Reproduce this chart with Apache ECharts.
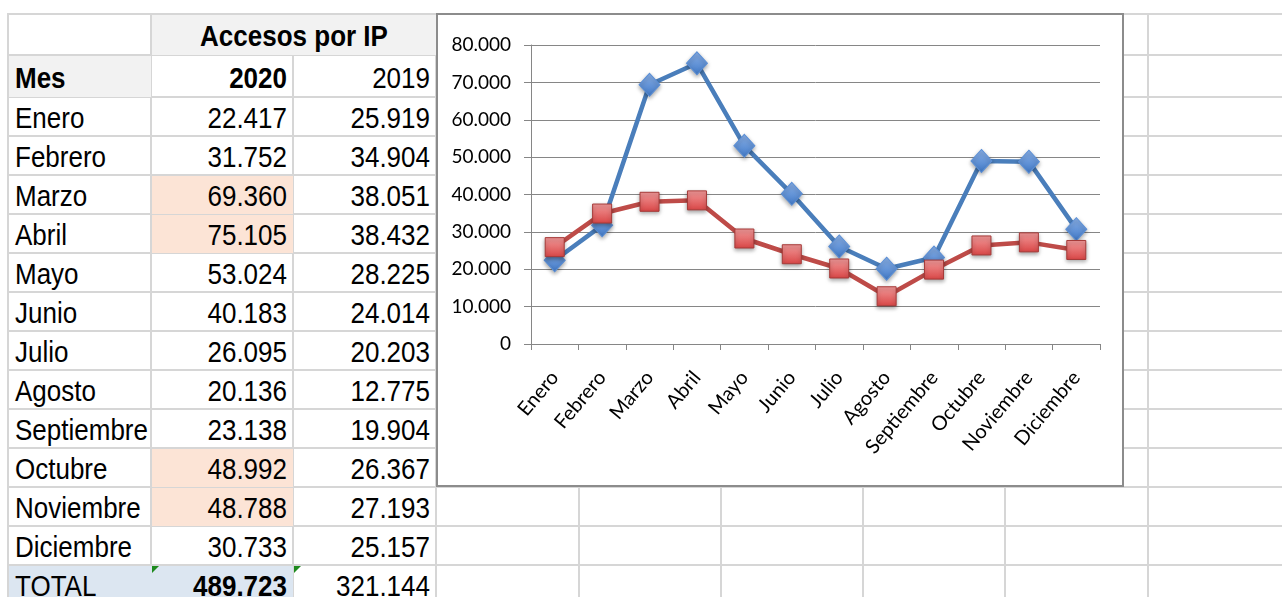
<!DOCTYPE html>
<html>
<head>
<meta charset="utf-8">
<script src="https://cdn.jsdelivr.net/npm/echarts@6/dist/echarts.min.js"></script>
<style>
html, body { margin: 0; padding: 0; background: #fff; }
#hoja { position: relative; width: 1282px; height: 597px; overflow: hidden; font-family: 'Liberation Sans', Arial, sans-serif; }
.v { position: absolute; width: 2px; background: #d6d6d6; }
.h { position: absolute; height: 2px; background: #d6d6d6; }
.fill { position: absolute; }
.celda { position: absolute; box-sizing: border-box; font-size: 26px; color: #000; white-space: nowrap; padding: 0 6px 0 7px; }
.celda span { display: inline-block; transform: translateY(2px) scaleY(1.12); }
.tri { position: absolute; width: 0; height: 0; border-top: 7px solid #1e8a1e; border-right: 7px solid transparent; }
#grafico { position: absolute; left: 436px; top: 13px; width: 688px; height: 474px; box-sizing: border-box; border: 2px solid #8c8c8c; background: #fff; }
</style>
</head>
<body>
<div id="hoja"></div>
<script>
// datos
const meses = ['Enero', 'Febrero', 'Marzo', 'Abril', 'Mayo', 'Junio', 'Julio', 'Agosto', 'Septiembre', 'Octubre', 'Noviembre', 'Diciembre']
const accesos2020 = [22417, 31752, 69360, 75105, 53024, 40183, 26095, 20136, 23138, 48992, 48788, 30733]
const accesos2019 = [25919, 34904, 38051, 38432, 28225, 24014, 20203, 12775, 19904, 26367, 27193, 25157]
const titulo = 'Accesos por IP'
const anios = ['2020', '2019']

const fmt = n => String(n).replace(/\B(?=(\d{3})+(?!\d))/g, '.')

// hoja de calculo
const colX = [8, 151, 293, 436, 579, 721, 863, 1005, 1148, 1290]
const filaY = [14, 55, 97, 136, 175, 214, 253, 292, 331, 370, 409, 448, 487, 526, 565, 604]
const hoja = document.getElementById('hoja')

colX.forEach(x => {
  const d = document.createElement('div')
  d.className = 'v'
  d.style.cssText = `left:${x - 1}px;top:${filaY[0] - 1}px;height:${600 - filaY[0]}px`
  hoja.appendChild(d)
})
filaY.forEach(y => {
  const d = document.createElement('div')
  d.className = 'h'
  d.style.cssText = `left:${colX[0] - 1}px;top:${y - 1}px;width:${1290 - colX[0]}px`
  hoja.appendChild(d)
})

const relleno = (c0, c1, r0, r1, color) => {
  const d = document.createElement('div')
  d.className = 'fill'
  d.style.cssText = `left:${colX[c0] + 1}px;top:${filaY[r0] + 1}px;width:${colX[c1] - colX[c0] - 1}px;height:${filaY[r1] - filaY[r0] - 1}px;background:${color}`
  hoja.appendChild(d)
}
const celda = (c0, c1, r, texto, align, bold) => {
  const d = document.createElement('div')
  d.className = 'celda'
  const h = filaY[r + 1] - filaY[r]
  d.style.cssText = `left:${colX[c0]}px;top:${filaY[r]}px;width:${colX[c1] - colX[c0]}px;height:${h}px;line-height:${h}px;text-align:${align};font-weight:${bold ? 'bold' : 'normal'}`
  d.innerHTML = `<span>${texto}</span>`
  hoja.appendChild(d)
}

// rellenos
relleno(1, 3, 0, 1, '#f2f2f2')
relleno(0, 1, 1, 2, '#f2f2f2')
const resaltados = [2, 3, 9, 10]
resaltados.forEach(i => relleno(1, 2, i + 2, i + 3, '#fce4d6'))
relleno(0, 2, 14, 15, '#dce6f1')

celda(1, 3, 0, titulo, 'center', true)
celda(0, 1, 1, 'Mes', 'left', true)
celda(1, 2, 1, anios[0], 'right', true)
celda(2, 3, 1, anios[1], 'right', false)
meses.forEach((m, i) => {
  celda(0, 1, i + 2, m, 'left', false)
  celda(1, 2, i + 2, fmt(accesos2020[i]), 'right', false)
  celda(2, 3, i + 2, fmt(accesos2019[i]), 'right', false)
})
const total2020 = accesos2020.reduce((a, b) => a + b, 0)
const total2019 = accesos2019.reduce((a, b) => a + b, 0)
celda(0, 1, 14, 'TOTAL', 'left', false)
celda(1, 2, 14, fmt(total2020), 'right', true)
celda(2, 3, 14, fmt(total2019), 'right', false)
;[1, 2].forEach(c => {
  const t = document.createElement('div')
  t.className = 'tri'
  t.style.cssText = `left:${colX[c] + 1}px;top:${filaY[14] + 1}px`
  hoja.appendChild(t)
})

// grafico
const cont = document.createElement('div')
cont.id = 'grafico'
hoja.appendChild(cont)
const chart = echarts.init(cont)

const ejeColor = '#868686'
const fuente = 'Lato, "Open Sans", sans-serif'

const option = {
  animation: false,
  grid: { left: 93, top: 30, width: 569, height: 299 },
  xAxis: {
    type: 'category',
    data: meses,
    boundaryGap: true,
    axisLine: { lineStyle: { color: ejeColor, width: 1 } },
    axisTick: { show: true, length: 6, interval: 0, lineStyle: { color: ejeColor } },
    axisLabel: { interval: 0, rotate: 50, margin: 30, color: '#000', fontSize: 20, fontFamily: fuente },
  },
  yAxis: {
    type: 'value',
    min: 0,
    max: 80000,
    interval: 10000,
    axisLine: { show: true, lineStyle: { color: ejeColor, width: 1 } },
    axisTick: { show: true, length: 7, lineStyle: { color: ejeColor } },
    axisLabel: { margin: 20, color: '#000', fontSize: 19, fontFamily: fuente, formatter: v => fmt(v) },
    splitLine: { lineStyle: { color: ejeColor, width: 1 } },
  },
  series: [
    {
      name: anios[0],
      type: 'line',
      data: accesos2020,
      symbol: 'diamond',
      symbolSize: [21, 23],
      lineStyle: { color: '#4a7ebb', width: 4.5 },
      itemStyle: {
        color: new echarts.graphic.LinearGradient(0, 0, 0, 1, [
          { offset: 0, color: '#8db3ea' },
          { offset: 1, color: '#3f78c6' },
        ]),
        borderColor: '#5b8fd6',
        borderWidth: 1,
        shadowBlur: 4,
        shadowColor: 'rgba(0,0,0,0.35)',
        shadowOffsetY: 2,
      },
    },
    {
      name: anios[1],
      type: 'line',
      data: accesos2019,
      symbol: 'rect',
      symbolSize: 19,
      lineStyle: { color: '#be4b48', width: 4.5 },
      itemStyle: {
        color: new echarts.graphic.LinearGradient(0, 0, 0, 1, [
          { offset: 0, color: '#f29a9a' },
          { offset: 1, color: '#d94646' },
        ]),
        borderColor: '#a63a38',
        borderWidth: 1,
        shadowBlur: 4,
        shadowColor: 'rgba(0,0,0,0.35)',
        shadowOffsetY: 2,
      },
    },
  ],
}

chart.setOption(option)
</script>
</body>
</html>
